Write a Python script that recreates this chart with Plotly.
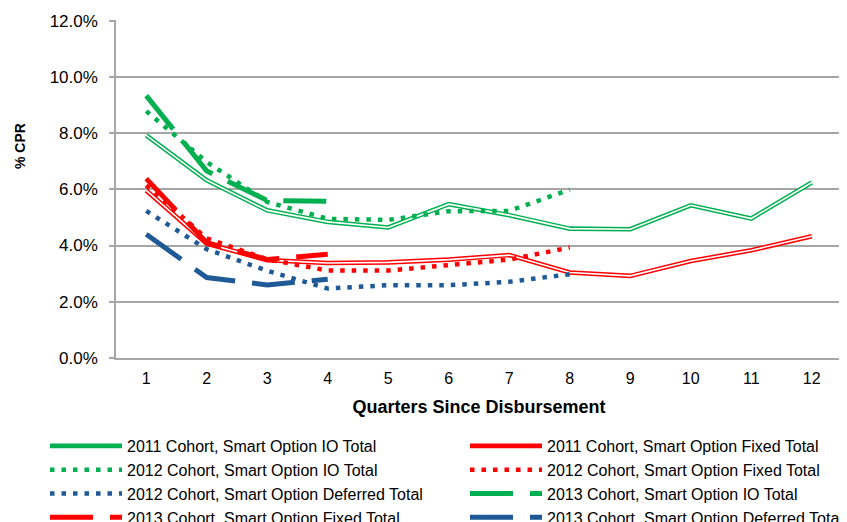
import plotly.graph_objects as go

quarters = [1, 2, 3, 4, 5, 6, 7, 8, 9, 10, 11, 12]
tick_labels = [str(q) for q in quarters]
y_ticks = [0, 2, 4, 6, 8, 10, 12]
y_tick_labels = ["0.0%", "2.0%", "4.0%", "6.0%", "8.0%", "10.0%", "12.0%"]

io_2011 = [7.92, 6.32, 5.25, 4.84, 4.64, 5.47, 5.08, 4.60, 4.58, 5.43, 4.96, 6.24]
fixed_2011 = [5.96, 4.07, 3.48, 3.38, 3.40, 3.50, 3.66, 3.04, 2.92, 3.45, 3.83, 4.33]
io_2012 = [8.78, 6.97, 5.55, 4.95, 4.91, 5.22, 5.23, 5.99]
fixed_2012 = [6.14, 4.25, 3.51, 3.11, 3.11, 3.32, 3.50, 3.93]
deferred_2012 = [5.23, 3.87, 3.10, 2.47, 2.59, 2.59, 2.71, 2.98]
io_2013 = [9.33, 6.65, 5.60, 5.57]
fixed_2013 = [6.38, 4.10, 3.50, 3.69]
deferred_2013 = [4.40, 2.86, 2.60, 2.80]

GREEN = "#00B050"
RED = "#FF0000"
BLUE = "#1F5A96"
DOT = "4.5px,7px"
LDASH = "43px,17px"

fig = go.Figure()

def add(y, name, color, dash, width, legend, show=True):
    fig.add_trace(go.Scatter(
        x=quarters[:len(y)], y=y, mode="lines", name=name,
        line=dict(color=color, width=width, dash=dash),
        showlegend=show, legend=legend, hoverinfo="skip"))

# 2011 double lines (colored outline + white core)
add(io_2011, "2011 Cohort, Smart Option IO Total", GREEN, "solid", 4.6, "legend")
add(io_2011, "", "white", "solid", 1.6, "legend", show=False)
add(fixed_2011, "2011 Cohort, Smart Option Fixed Total", RED, "solid", 4.6, "legend2")
add(fixed_2011, "", "white", "solid", 1.6, "legend2", show=False)
add(io_2012, "2012 Cohort, Smart Option IO Total", GREEN, DOT, 4.5, "legend")
add(fixed_2012, "2012 Cohort, Smart Option Fixed Total", RED, DOT, 4.5, "legend2")
add(deferred_2012, "2012 Cohort, Smart Option Deferred Total", BLUE, DOT, 4.5, "legend")
add(io_2013, "2013 Cohort, Smart Option IO Total", GREEN, LDASH, 5, "legend2")
add(fixed_2013, "2013 Cohort, Smart Option Fixed Total", RED, LDASH, 5, "legend")
add(deferred_2013, "2013 Cohort, Smart Option Deferred Total", BLUE, LDASH, 5, "legend2")

FONT = "Liberation Sans, Arial, sans-serif"
GRID = "#A6A6A6"

legend_common = dict(
    font=dict(family=FONT, size=16, color="#000000"),
    xref="container", yref="container", yanchor="top", xanchor="left",
    itemwidth=72, bgcolor="rgba(0,0,0,0)", tracegroupgap=0,
)

fig.update_layout(
    width=847, height=522,
    margin=dict(l=108, r=13, t=12, b=172, autoexpand=False),
    paper_bgcolor="white", plot_bgcolor="white",
    font=dict(family=FONT, size=15, color="#000000"),
    legend=dict(x=37 / 847, y=1 - 421 / 522, **legend_common),
    legend2=dict(x=457 / 847, y=1 - 421 / 522, **legend_common),
    xaxis=dict(
        range=[0.5, 12.5], tickvals=quarters, ticktext=tick_labels,
        showgrid=False, zeroline=False, showline=True, linecolor=GRID, linewidth=1.5,
        ticks="", ticklabelstandoff=5,
        tickfont=dict(size=16, family=FONT),
        title=dict(text="<b>Quarters Since Disbursement</b>", font=dict(size=18, family=FONT), standoff=14),
    ),
    yaxis=dict(
        range=[0, 12.02], tickvals=y_ticks, ticktext=y_tick_labels,
        showgrid=True, gridcolor=GRID, gridwidth=1.5, zeroline=False,
        showline=True, linecolor=GRID, linewidth=1.5,
        ticks="outside", ticklen=5, tickcolor=GRID, tickwidth=1.5,
        ticklabelstandoff=8,
        tickfont=dict(size=17, family=FONT),
    ),
    annotations=[dict(
        text="<b>% CPR</b>", textangle=-90, showarrow=False,
        xref="paper", yref="paper", x=(20 - 116) / 726, y=(358 - 146) / 338,
        xanchor="center", yanchor="middle", font=dict(size=14, family=FONT, color="#000000"),
    )],
)

fig.write_html("out.html")
